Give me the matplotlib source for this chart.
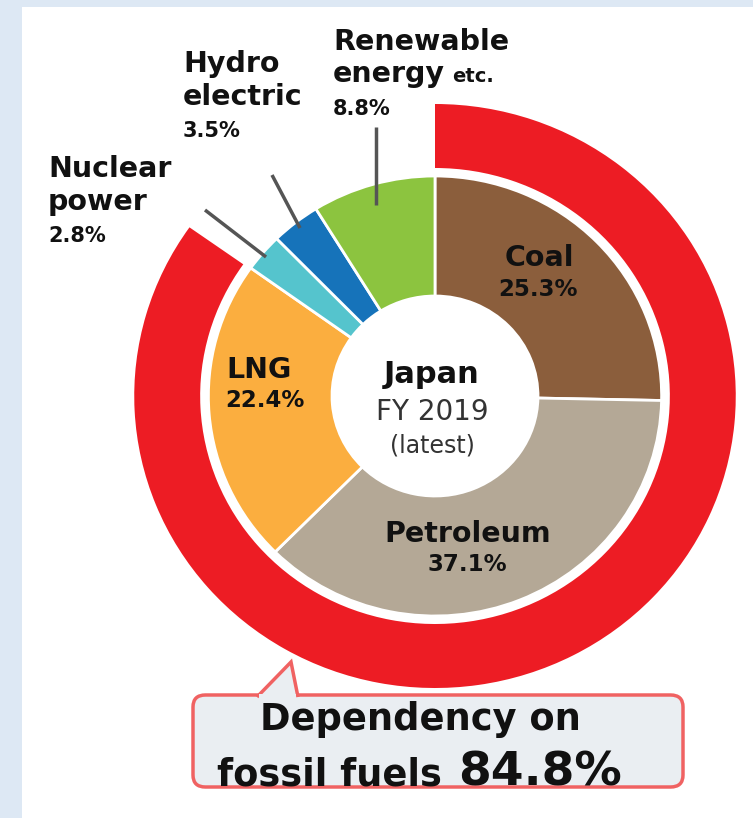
import matplotlib
matplotlib.use("Agg")
import matplotlib.pyplot as plt
from matplotlib.patches import FancyBboxPatch, Polygon, Rectangle

# ---------------- data ----------------
sources = ["Coal", "Petroleum", "LNG", "Nuclear power", "Hydro electric", "Renewable energy etc."]
shares = [25.3, 37.1, 22.4, 2.8, 3.5, 8.8]
colors = ["#8B5E3C", "#B4A896", "#FBAE3F", "#55C4CD", "#1673BA", "#8CC43F"]
fossil_share = 84.8
center_lines = ["Japan", "FY 2019", "(latest)"]

# ---------------- layout helpers (pixel coords of 753x818 image) ----------------
W, H = 753, 818
SX = 1.03               # slight horizontal stretch of the original
CX, CY = 435, 396       # pie centre in pixels


def X(x):
    return x / SX


def Y(y):
    return H - y


plt.rcParams['font.family'] = ['DejaVu Sans']
fig = plt.figure(figsize=(W / 100, H / 100), dpi=100)
fig.patch.set_facecolor("#DDE8F4")
ax = fig.add_axes([0, 0, 1, 1])
ax.set_facecolor("none")

# white panel
ax.add_patch(Rectangle((X(22), 0), X(W) - X(22), Y(7), facecolor="white", edgecolor="none", zorder=0))

center = (X(CX), Y(CY))

# outer fossil ring
ax.pie([fossil_share, 100 - fossil_share], colors=["#ED1C24", "none"], radius=292,
       center=center, startangle=90, counterclock=False,
       wedgeprops=dict(width=64, edgecolor="none"))

# inner donut
ax.pie(shares, colors=colors, radius=220, center=center, startangle=90, counterclock=False,
       wedgeprops=dict(width=120, edgecolor="white", linewidth=2))

ax.set_aspect("auto")
ax.set_xlim(0, W / SX)
ax.set_ylim(0, H)
ax.axis("off")

TXT = "#111111"


def t(x, y, s, size, weight="bold", ha="center", color=TXT, **kw):
    ax.text(X(x), Y(y), s, fontsize=size, fontweight=weight, ha=ha, va="baseline", color=color, **kw)


# inner labels
t(539, 266, "Coal", 20.5)
t(538, 296, f"{shares[0]}%", 16.5)
t(468, 542, "Petroleum", 20.5)
t(467, 571, f"{shares[1]}%", 16.5)
t(259, 378, "LNG", 20.5)
t(265, 407, f"{shares[2]}%", 16.5)

# centre text
t(432, 383, center_lines[0], 22)
t(432, 420, center_lines[1], 20, weight="normal", color="#333333")
t(432, 452, center_lines[2], 17, weight="normal", color="#333333")

# outer labels
t(333, 50, "Renewable", 20.5, ha="left")
t(333, 82, "energy", 20.5, ha="left")
t(452, 82, "etc.", 14, ha="left")
t(333, 115, f"{shares[5]}%", 15, ha="left")

t(183, 72, "Hydro", 20.5, ha="left")
t(183, 105, "electric", 20.5, ha="left")
t(183, 137, f"{shares[4]}%", 15, ha="left")

t(48, 177, "Nuclear", 20.5, ha="left")
t(48, 210, "power", 20.5, ha="left")
t(48, 242, f"{shares[3]}%", 15, ha="left")

# leader lines
for (x0, y0, x1, y1) in [(376, 127, 376, 205), (272, 175, 300, 228), (205, 210, 266, 257)]:
    ax.plot([X(x0), X(x1)], [Y(y0), Y(y1)], color="#555555", lw=2.5, solid_capstyle="butt", zorder=5)

# callout box
box_fc = "#EAEEF2"
box_ec = "#F06262"
ax.add_patch(FancyBboxPatch((X(193), Y(787)), X(683) - X(193), Y(695) - Y(787),
                            boxstyle="round,pad=0,rounding_size=12",
                            facecolor=box_fc, edgecolor=box_ec, lw=2.5, zorder=6))
ax.add_patch(Polygon([(X(257), Y(697)), (X(291), Y(662)), (X(298), Y(697))], closed=False,
                     facecolor=box_fc, edgecolor=box_ec, lw=2.5, zorder=7, joinstyle="miter"))
ax.add_patch(Rectangle((X(259), Y(699)), X(296) - X(259), 5, facecolor=box_fc, edgecolor="none", zorder=8))

t(420, 730, "Dependency on", 26.5, zorder=9)
t(217, 785, "fossil fuels", 26.5, ha="left", zorder=9)
t(458, 785, f"{fossil_share}%", 34, ha="left", zorder=9)

fig.savefig("out.png", dpi=100, facecolor=fig.get_facecolor())
